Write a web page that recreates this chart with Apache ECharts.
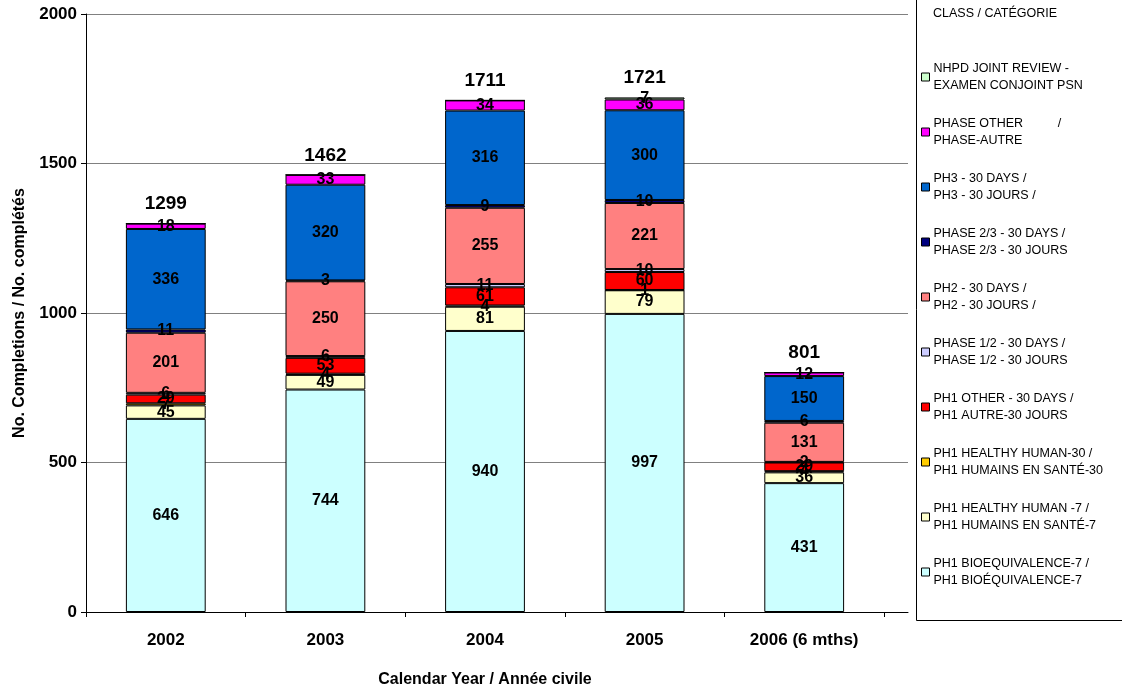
<!DOCTYPE html>
<html>
<head>
<meta charset="utf-8">
<script src="https://cdn.jsdelivr.net/npm/echarts@6/dist/echarts.min.js"></script>
<style>html,body{margin:0;padding:0;background:#fff;}#c{width:1122px;height:691px;}</style>
</head>
<body>
<div id="c"></div>
<script>
const categories = ['2002', '2003', '2004', '2005', '2006 (6 mths)'];
const bioeq7 = [646, 744, 940, 997, 431];
const healthy7 = [45, 49, 81, 79, 36];
const healthy30 = [7, 4, 4, 1, 4];
const ph1Other = [29, 53, 61, 60, 29];
const phase12 = [6, 6, 11, 10, 2];
const ph2 = [201, 250, 255, 221, 131];
const phase23 = [11, 3, 9, 10, 6];
const ph3 = [336, 320, 316, 300, 150];
const phaseOther = [18, 33, 34, 36, 12];
const nhpdJoint = [0, 0, 0, 7, 0];
const yTicks = [0, 500, 1000, 1500, 2000];

const seriesDefs = [
  {name: 'PH1 BIOEQUIVALENCE-7 /\nPH1 BIOÉQUIVALENCE-7', data: bioeq7, color: '#CCFFFF'},
  {name: 'PH1 HEALTHY HUMAN -7 /\nPH1 HUMAINS EN SANTÉ-7', data: healthy7, color: '#FFFFCC'},
  {name: 'PH1 HEALTHY HUMAN-30 /\nPH1 HUMAINS EN SANTÉ-30', data: healthy30, color: '#FFCC00'},
  {name: 'PH1 OTHER - 30 DAYS /\nPH1 AUTRE-30 JOURS', data: ph1Other, color: '#FF0000'},
  {name: 'PHASE 1/2 - 30 DAYS /\nPHASE 1/2 - 30 JOURS', data: phase12, color: '#CCCCFF'},
  {name: 'PH2 - 30 DAYS /\nPH2 - 30 JOURS /', data: ph2, color: '#FF8080'},
  {name: 'PHASE 2/3 - 30 DAYS /\nPHASE 2/3 - 30 JOURS', data: phase23, color: '#000080'},
  {name: 'PH3 - 30 DAYS /\nPH3 - 30 JOURS /', data: ph3, color: '#0066CC'},
  {name: 'PHASE OTHER          /\nPHASE-AUTRE', data: phaseOther, color: '#FF00FF'},
  {name: 'NHPD JOINT REVIEW -\nEXAMEN CONJOINT PSN', data: nhpdJoint, color: '#CCFFCC'}
];

const totals = categories.map((c, i) => seriesDefs.reduce((s, d) => s + d.data[i], 0));

const font = 'Arial, "Liberation Sans", sans-serif';

const series = seriesDefs.map(d => ({
  name: d.name,
  type: 'bar',
  stack: 'all',
  barWidth: '50%',
  xAxisIndex: 0,
  yAxisIndex: 0,
  data: d.data,
  itemStyle: {color: d.color, borderColor: '#000', borderWidth: 1},
  label: {
    show: true,
    position: 'inside',
    color: '#000',
    fontFamily: font,
    fontWeight: 'bold',
    fontSize: 16,
    formatter: p => p.value ? String(p.value) : ''
  },
  emphasis: {disabled: true},
  animation: false
}));

series.push({
  name: 'total',
  type: 'bar',
  stack: 'all',
  barWidth: '50%',
  xAxisIndex: 0,
  yAxisIndex: 0,
  data: totals.map(() => 0),
  itemStyle: {color: 'rgba(0,0,0,0)', borderWidth: 0},
  label: {
    show: true,
    position: 'top',
    distance: 10,
    color: '#000',
    fontFamily: font,
    fontWeight: 'bold',
    fontSize: 19,
    formatter: p => String(totals[p.dataIndex])
  },
  silent: true,
  emphasis: {disabled: true},
  animation: false
});

const legendOrder = seriesDefs.map(d => d.name).reverse();
const titleStyle = {color: '#000', fontFamily: font, fontWeight: 'bold', fontSize: 16};

const chart = echarts.init(document.getElementById('c'), null, {renderer: 'canvas'});
chart.setOption({
  backgroundColor: '#fff',
  animation: false,
  grid: [
    {left: 86, right: 238, top: 14, bottom: 79, outerBoundsMode: 'none', containLabel: false},
    {left: 86, right: 214, top: 14, bottom: 79, outerBoundsMode: 'none', containLabel: false}
  ],
  xAxis: [
    {
      type: 'category',
      gridIndex: 0,
      data: categories,
      axisLine: {show: false},
      axisTick: {show: true, length: 5, lineStyle: {color: '#000'}},
      axisLabel: {color: '#000', fontFamily: font, fontWeight: 'bold', fontSize: 17, margin: 20},
      name: 'Calendar Year / Année civile',
      nameLocation: 'middle',
      nameGap: 60,
      nameTextStyle: titleStyle
    },
    {
      type: 'value',
      gridIndex: 1,
      min: 0,
      max: 1,
      axisLine: {show: true, onZero: false, lineStyle: {color: '#000', width: 1}},
      axisTick: {show: false},
      axisLabel: {show: false},
      splitLine: {show: false}
    }
  ],
  yAxis: [
    {
      type: 'value',
      gridIndex: 0,
      min: yTicks[0],
      max: yTicks[yTicks.length - 1],
      interval: 500,
      axisLine: {show: false},
      axisTick: {show: false},
      axisLabel: {show: false},
      splitLine: {show: false}
    },
    {
      type: 'value',
      gridIndex: 1,
      min: yTicks[0],
      max: yTicks[yTicks.length - 1],
      interval: 500,
      axisLine: {show: true, lineStyle: {color: '#000', width: 1}},
      axisTick: {show: true, length: 5, lineStyle: {color: '#000'}},
      axisLabel: {color: '#000', fontFamily: font, fontWeight: 'bold', fontSize: 17, margin: 9, formatter: v => String(v)},
      splitLine: {show: true, lineStyle: {color: '#808080', width: 1}},
      name: 'No. Completions / No. complétés',
      nameLocation: 'middle',
      nameGap: 58,
      nameTextStyle: titleStyle
    }
  ],
  legend: {
    data: legendOrder,
    orient: 'vertical',
    left: 916,
    top: 55,
    itemWidth: 8,
    itemHeight: 8,
    itemGap: 21,
    icon: 'rect',
    selectedMode: false,
    itemStyle: {borderColor: '#000', borderWidth: 1},
    textStyle: {color: '#000', fontFamily: font, fontSize: 12.5, lineHeight: 17, padding: [0, 0, 0, -1]}
  },
  graphic: [
    {type: 'rect', shape: {x: 916.5, y: -2, width: 220, height: 622.5}, style: {fill: 'none', stroke: '#000', lineWidth: 1}, silent: true},
    {type: 'text', left: 933, top: 7, style: {text: 'CLASS / CATÉGORIE', fill: '#000', font: '12.5px ' + font}, silent: true}
  ],
  series: series
});
</script>
</body>
</html>
